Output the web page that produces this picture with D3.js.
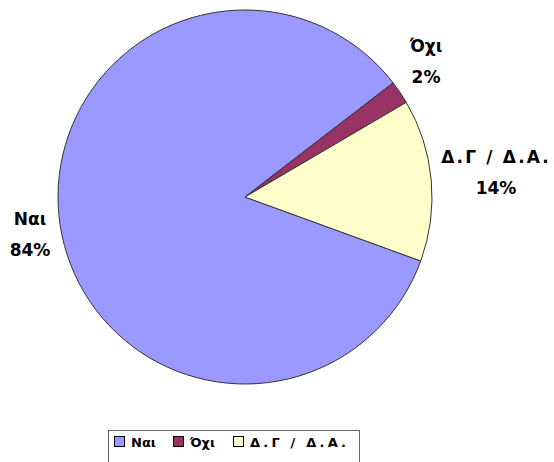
<!DOCTYPE html>
<html>
<head>
<meta charset="utf-8">
<script src="https://cdn.jsdelivr.net/npm/d3@7"></script>
<style>
  body { margin: 0; background: #fff; }
  text { font-family: "DejaVu Sans", Verdana, sans-serif; font-weight: bold; fill: #000; }
</style>
</head>
<body>
<div id="chart"></div>
<script>
// data
var categories = ["Ναι", "Όχι", "Δ.Γ / Δ.Α."];
var values = [84, 2, 14];
var colors = ["#9999FF", "#993366", "#FFFFCC"];
// label anchor (centre x, first baseline)
var labelPos = [[30, 225], [426, 52], [496, 163]];
var spacing = [0, 0, 2.2];
var legSpacing = [0, 0, 3.2];

var width = 554, height = 462;
var cx = 245, cy = 197, radius = 187;

var svg = d3.select("#chart").append("svg")
    .attr("width", width)
    .attr("height", height);

var data = categories.map(function(c, i) { return {name: c, value: values[i]}; });

var pie = d3.pie()
    .sort(null)
    .value(function(d) { return d.value; })
    .startAngle(110 * Math.PI / 180)
    .endAngle(470 * Math.PI / 180);

var arc = d3.arc().innerRadius(0).outerRadius(radius);

var g = svg.append("g").attr("transform", "translate(" + cx + "," + cy + ")");

g.selectAll("path")
    .data(pie(data))
    .enter().append("path")
    .attr("d", arc)
    .attr("fill", function(d, i) { return colors[i]; })
    .attr("stroke", "#333")
    .attr("stroke-width", 1);

// slice labels
var labels = svg.selectAll(".lbl")
    .data(data)
    .enter().append("text")
    .attr("class", "lbl")
    .attr("text-anchor", "middle")
    .style("font-size", "17px");

labels.append("tspan")
    .attr("x", function(d, i) { return labelPos[i][0]; })
    .attr("y", function(d, i) { return labelPos[i][1]; })
    .style("letter-spacing", function(d, i) { return spacing[i] + "px"; })
    .text(function(d) { return d.name; });

labels.append("tspan")
    .attr("x", function(d, i) { return labelPos[i][0]; })
    .attr("y", function(d, i) { return labelPos[i][1] + 31; })
    .text(function(d) { return d.value + "%"; });

// legend
var legend = svg.append("g");
legend.append("rect")
    .attr("x", 108.5).attr("y", 430.5)
    .attr("width", 251).attr("height", 40)
    .attr("fill", "#fff")
    .attr("stroke", "#666");

var legX = [114, 173, 233];
var items = legend.selectAll(".item")
    .data(data)
    .enter().append("g")
    .attr("transform", function(d, i) { return "translate(" + legX[i] + ",436)"; });

items.append("rect")
    .attr("width", 10).attr("height", 10)
    .attr("x", 0.5).attr("y", 0.5)
    .attr("fill", function(d, i) { return colors[i]; })
    .attr("stroke", "#000");

items.append("text")
    .attr("x", 17).attr("y", 11)
    .style("font-size", "13px")
    .style("letter-spacing", function(d, i) { return legSpacing[i] + "px"; })
    .text(function(d) { return d.name; });
</script>
</body>
</html>
